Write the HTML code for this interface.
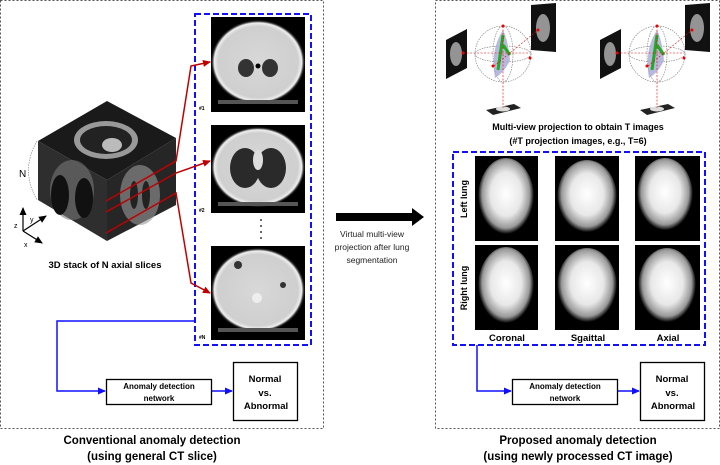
<!DOCTYPE html>
<html><head><meta charset="utf-8"><style>
body{margin:0;background:#fff;}
svg{display:block;font-family:"Liberation Sans",Arial,sans-serif;}
</style></head><body>
<svg width="720" height="465" viewBox="0 0 720 465" xmlns="http://www.w3.org/2000/svg">
<defs>
<marker id="ar" markerWidth="8" markerHeight="8" refX="7" refY="4" orient="auto" markerUnits="userSpaceOnUse"><path d="M0,0.5 L8,4 L0,7.5z" fill="#c00000"/></marker>
<marker id="ab" markerWidth="8" markerHeight="8" refX="7" refY="4" orient="auto" markerUnits="userSpaceOnUse"><path d="M0,0.5 L8,4 L0,7.5z" fill="#1010ff"/></marker>
<marker id="ak" markerWidth="8" markerHeight="8" refX="7" refY="4" orient="auto" markerUnits="userSpaceOnUse"><path d="M0,0.5 L8,4 L0,7.5z" fill="#000"/></marker>
<radialGradient id="ct" cx="50%" cy="50%" r="50%"><stop offset="0" stop-color="#d8d8d8"/><stop offset="0.85" stop-color="#cfcfcf"/><stop offset="0.93" stop-color="#eee"/><stop offset="0.97" stop-color="#333"/><stop offset="1" stop-color="#000"/></radialGradient>
<radialGradient id="lung" cx="50%" cy="45%" r="50%"><stop offset="0" stop-color="#fff"/><stop offset="0.55" stop-color="#e8e8e8"/><stop offset="0.85" stop-color="#999"/><stop offset="1" stop-color="#000"/></radialGradient>
</defs>

<rect x="0.5" y="0.5" width="323" height="428" fill="none" stroke="#555" stroke-dasharray="2,2"/>
<rect x="435.5" y="0.5" width="284" height="428" fill="none" stroke="#555" stroke-dasharray="2,2"/>

<rect x="195" y="14" width="116" height="331" fill="none" stroke="#1010ff" stroke-width="2" stroke-dasharray="6,3"/>
<rect x="211" y="17" width="94" height="95" fill="#000"/><ellipse cx="258" cy="62" rx="47" ry="42" fill="url(#ct)"/><rect x="218" y="100" width="80" height="4" fill="#555"/><ellipse cx="246" cy="68" rx="8" ry="9" fill="#333"/><ellipse cx="270" cy="68" rx="8" ry="9" fill="#333"/><circle cx="258" cy="66" r="2.5" fill="#000"/>
<rect x="211" y="125" width="94" height="88" fill="#000"/><ellipse cx="258" cy="167" rx="47" ry="40" fill="url(#ct)"/><rect x="218" y="202" width="80" height="4" fill="#555"/><ellipse cx="245" cy="168" rx="15" ry="20" fill="#2a2a2a"/><ellipse cx="271" cy="168" rx="15" ry="20" fill="#2a2a2a"/><ellipse cx="258" cy="160" rx="5" ry="10" fill="#ddd"/>
<rect x="211" y="246" width="94" height="94" fill="#000"/><ellipse cx="258" cy="290" rx="47" ry="42" fill="url(#ct)"/><rect x="218" y="328" width="80" height="4" fill="#555"/><circle cx="238" cy="265" r="4" fill="#333"/><circle cx="283" cy="285" r="3" fill="#333"/><circle cx="257" cy="298" r="5" fill="#eee"/>
<text x="199" y="110" font-size="5" font-weight="bold">#1</text>
<text x="199" y="212" font-size="5" font-weight="bold">#2</text>
<text x="199" y="339" font-size="5" font-weight="bold">#N</text>
<g fill="#000"><circle cx="261" cy="220" r="0.9"/><circle cx="261" cy="226" r="0.9"/><circle cx="261" cy="232" r="0.9"/><circle cx="261" cy="238" r="0.9"/></g>

<polygon points="38,141 107,101 176,138 107,180" fill="#1a1a1a"/>
<polygon points="38,141 107,180 107,241 38,200" fill="#2e2e2e"/>
<polygon points="107,180 176,138 176,205 107,241" fill="#262626"/>
<ellipse cx="106" cy="140" rx="32" ry="19" fill="#999"/><ellipse cx="106" cy="140" rx="26" ry="14" fill="#222"/><ellipse cx="112" cy="145" rx="10" ry="7" fill="#bbb"/>
<ellipse cx="72" cy="190" rx="22" ry="30" fill="#777" opacity="0.6"/><ellipse cx="60" cy="195" rx="9" ry="20" fill="#111"/><ellipse cx="84" cy="198" rx="9" ry="20" fill="#111"/>
<ellipse cx="140" cy="195" rx="20" ry="30" fill="#999" opacity="0.6"/><ellipse cx="134" cy="195" rx="4" ry="14" fill="#222"/><ellipse cx="146" cy="195" rx="4" ry="14" fill="#222"/>
<path d="M37,141 Q20,170 37,200" fill="none" stroke="#777" stroke-width="0.6" stroke-dasharray="1.5,1"/>
<text x="19" y="177" font-size="10">N</text>
<g stroke="#000" stroke-width="1.2" fill="none"><path d="M23,231 V208" marker-end="url(#ak)"/><path d="M23,231 L46,216" marker-end="url(#ak)"/><path d="M23,231 L42,243" marker-end="url(#ak)"/></g>
<text x="14" y="228" font-size="7">z</text><text x="30" y="222" font-size="7">y</text><text x="24" y="247" font-size="7">x</text>
<text x="105" y="268" font-size="9.5" font-weight="bold" text-anchor="middle">3D stack of N axial slices</text>

<g stroke="#c00000" stroke-width="1.5" fill="none">
<path d="M106,201 L176,161 L191,66 L210,62" marker-end="url(#ar)"/>
<path d="M106,212 L176,173 L210,161" marker-end="url(#ar)"/>
<path d="M106,233 L176,193 L191,283 L210,293" marker-end="url(#ar)"/>
</g>

<g stroke="#1010ff" stroke-width="1.5" fill="none">
<path d="M195,321 H57 V391 H105" marker-end="url(#ab)"/>
<path d="M211,391 H232" marker-end="url(#ab)"/>
</g>
<rect x="106.5" y="379.5" width="105" height="25" fill="#fff" stroke="#000" stroke-width="1.3"/>
<text x="159" y="389" font-size="8" font-weight="bold" text-anchor="middle">Anomaly detection</text>
<text x="159" y="401" font-size="8" font-weight="bold" text-anchor="middle">network</text>
<rect x="233.5" y="362.5" width="64" height="58" fill="#fff" stroke="#000" stroke-width="1.3"/>
<text x="265" y="382" font-size="9.5" font-weight="bold" text-anchor="middle">Normal</text>
<text x="265" y="396" font-size="9.5" font-weight="bold" text-anchor="middle">vs.</text>
<text x="266" y="409" font-size="9.5" font-weight="bold" text-anchor="middle">Abnormal</text>
<text x="152" y="444" font-size="11.5" font-weight="bold" text-anchor="middle">Conventional anomaly detection</text>
<text x="152" y="460" font-size="11.5" font-weight="bold" text-anchor="middle">(using general CT slice)</text>

<polygon points="336,213 412,213 412,208 424,217 412,226 412,221 336,221" fill="#000"/>
<text x="372" y="237" font-size="8.5" text-anchor="middle" fill="#222">Virtual multi-view</text>
<text x="372" y="250" font-size="8.5" text-anchor="middle" fill="#222">projection after lung</text>
<text x="372" y="263" font-size="8.5" text-anchor="middle" fill="#222">segmentation</text>

<g id="proj">
<polygon points="446,40 467,29 467,68 446,79" fill="#111"/><ellipse cx="456" cy="54" rx="6" ry="12" fill="#ccc" opacity="0.7"/>
<polygon points="531,5 556,3 556,52 531,50" fill="#111"/><ellipse cx="543" cy="28" rx="7" ry="14" fill="#ccc" opacity="0.7"/>
<polygon points="486,110 514,104 521,108 493,115" fill="#222"/><ellipse cx="503" cy="109" rx="7" ry="2.5" fill="#ddd"/>
<circle cx="503" cy="54" r="28" fill="none" stroke="#777" stroke-width="0.6" stroke-dasharray="1.5,1"/>
<ellipse cx="503" cy="54" rx="28" ry="8" fill="none" stroke="#777" stroke-width="0.6" stroke-dasharray="1.5,1"/>
<ellipse cx="503" cy="54" rx="10" ry="28" fill="none" stroke="#777" stroke-width="0.6" stroke-dasharray="1.5,1"/>
<path d="M503,30 Q490,50 495,78 Q505,72 510,60 Q508,40 503,30z" fill="#a8a8d8" opacity="0.8"/>
<path d="M503,35 L498,70 M503,45 L510,55" stroke="#2a2" stroke-width="3"/>
<g stroke="#e00" stroke-width="0.6" stroke-dasharray="2,1.5" fill="none"><path d="M503,26 V108"/><path d="M463,53 H530"/><path d="M494,66 L538,30"/></g>
<g fill="#e00"><circle cx="503" cy="26" r="1.5"/><circle cx="530" cy="58" r="1.5"/><circle cx="493" cy="66" r="1.5"/><circle cx="463" cy="53" r="1.5"/><circle cx="538" cy="30" r="1.5"/></g>
</g>
<use href="#proj" x="154"/>
<text x="578" y="130" font-size="9" font-weight="bold" text-anchor="middle">Multi-view projection to obtain T images</text>
<text x="578" y="144" font-size="9" font-weight="bold" text-anchor="middle">(#T projection images, e.g., T=6)</text>

<rect x="453" y="152" width="252" height="193" fill="none" stroke="#1010ff" stroke-width="2" stroke-dasharray="6,3"/>
<g>
<rect x="475" y="156" width="63" height="85" fill="#000"/><ellipse cx="506" cy="198" rx="28" ry="40" fill="url(#lung)"/>
<rect x="555" y="156" width="64" height="85" fill="#000"/><ellipse cx="587" cy="198" rx="30" ry="38" fill="url(#lung)"/>
<rect x="635" y="156" width="65" height="85" fill="#000"/><ellipse cx="665" cy="196" rx="28" ry="38" fill="url(#lung)"/>
<rect x="475" y="245" width="63" height="85" fill="#000"/><ellipse cx="506" cy="287" rx="28" ry="40" fill="url(#lung)"/>
<rect x="555" y="245" width="64" height="85" fill="#000"/><ellipse cx="587" cy="287" rx="30" ry="39" fill="url(#lung)"/>
<rect x="635" y="245" width="65" height="85" fill="#000"/><ellipse cx="667" cy="287" rx="29" ry="39" fill="url(#lung)"/>
</g>
<text transform="translate(467,199) rotate(-90)" font-size="9" font-weight="bold" text-anchor="middle">Left lung</text>
<text transform="translate(467,288) rotate(-90)" font-size="9" font-weight="bold" text-anchor="middle">Right lung</text>
<text x="507" y="341" font-size="9.5" font-weight="bold" text-anchor="middle">Coronal</text>
<text x="588" y="341" font-size="9.5" font-weight="bold" text-anchor="middle">Sgaittal</text>
<text x="668" y="341" font-size="9.5" font-weight="bold" text-anchor="middle">Axial</text>

<g stroke="#1010ff" stroke-width="1.5" fill="none">
<path d="M477,345 V391 H511" marker-end="url(#ab)"/>
<path d="M617,391 H639" marker-end="url(#ab)"/>
</g>
<rect x="512.5" y="379.5" width="105" height="25" fill="#fff" stroke="#000" stroke-width="1.3"/>
<text x="565" y="389" font-size="8" font-weight="bold" text-anchor="middle">Anomaly detection</text>
<text x="565" y="401" font-size="8" font-weight="bold" text-anchor="middle">network</text>
<rect x="640.5" y="362.5" width="64" height="58" fill="#fff" stroke="#000" stroke-width="1.3"/>
<text x="672" y="382" font-size="9.5" font-weight="bold" text-anchor="middle">Normal</text>
<text x="672" y="396" font-size="9.5" font-weight="bold" text-anchor="middle">vs.</text>
<text x="673" y="409" font-size="9.5" font-weight="bold" text-anchor="middle">Abnormal</text>
<text x="578" y="444" font-size="11.5" font-weight="bold" text-anchor="middle">Proposed anomaly detection</text>
<text x="578" y="460" font-size="11.5" font-weight="bold" text-anchor="middle">(using newly processed CT image)</text>
</svg>
</body></html>
